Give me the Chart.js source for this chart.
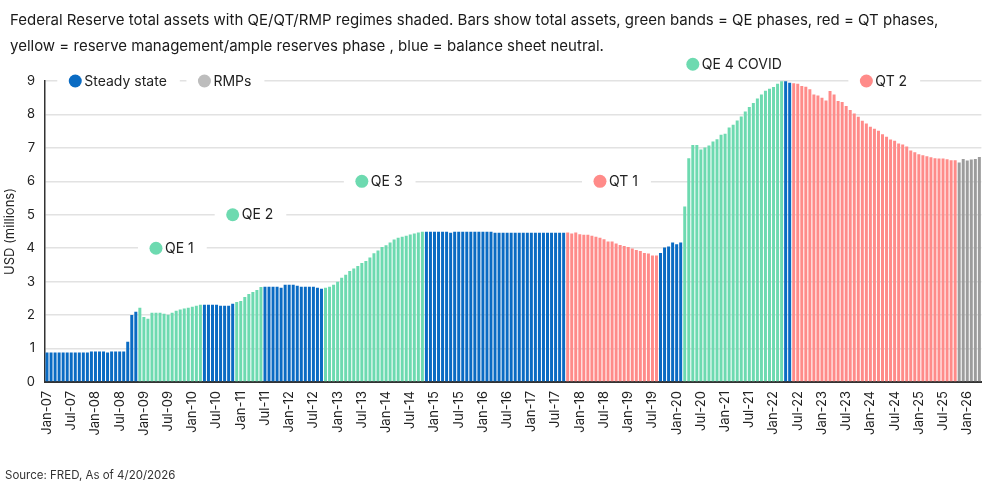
<!DOCTYPE html>
<html>
<head>
<meta charset="utf-8">
<script src="https://cdn.jsdelivr.net/npm/chart.js@4.4.1/dist/chart.umd.min.js"></script>
<style>
  html, body { margin: 0; padding: 0; background: #fff; }
  #wrap { width: 992px; height: 489px; position: relative; }
</style>
</head>
<body>
<div id="wrap"><canvas id="fedChart"></canvas></div>
<script>
// Fed total assets, month end, USD trillions (axis says millions, kept as in source)
// Jan-07 .. Apr-26, one row per year
const totalAssets = [
  0.88,0.88,0.88,0.88,0.88,0.88,0.88,0.88,0.88,0.88,0.88,0.91,
  0.91,0.91,0.91,0.88,0.91,0.91,0.91,0.91,1.20,2.00,2.10,2.22,
  1.94,1.89,2.07,2.07,2.07,2.04,2.01,2.07,2.13,2.17,2.20,2.22,
  2.25,2.28,2.31,2.31,2.31,2.31,2.31,2.28,2.28,2.28,2.34,2.39,
  2.42,2.54,2.63,2.69,2.75,2.84,2.85,2.85,2.85,2.85,2.82,2.91,
  2.91,2.91,2.88,2.85,2.85,2.85,2.85,2.82,2.79,2.82,2.85,2.91,
  3.00,3.12,3.21,3.32,3.39,3.47,3.56,3.62,3.72,3.85,3.93,4.04,
  4.09,4.17,4.26,4.31,4.34,4.37,4.41,4.44,4.47,4.49,4.49,4.49,
  4.49,4.49,4.49,4.49,4.46,4.49,4.49,4.49,4.49,4.49,4.49,4.49,
  4.49,4.49,4.49,4.46,4.46,4.46,4.46,4.46,4.46,4.46,4.46,4.46,
  4.46,4.46,4.46,4.46,4.46,4.46,4.46,4.46,4.46,4.47,4.44,4.47,
  4.42,4.40,4.40,4.37,4.34,4.31,4.27,4.20,4.20,4.14,4.10,4.07,
  4.04,3.99,3.95,3.92,3.86,3.84,3.78,3.78,3.86,4.02,4.05,4.17,
  4.12,4.17,5.25,6.69,7.09,7.09,6.95,7.01,7.07,7.19,7.26,7.39,
  7.42,7.61,7.69,7.82,7.94,8.09,8.22,8.34,8.48,8.60,8.71,8.77,
  8.82,8.92,8.99,8.99,8.95,8.93,8.92,8.85,8.83,8.75,8.60,8.57,
  8.50,8.42,8.70,8.60,8.40,8.37,8.25,8.13,8.03,7.93,7.81,7.73,
  7.63,7.57,7.51,7.41,7.33,7.25,7.21,7.13,7.10,7.04,6.92,6.87,
  6.81,6.78,6.75,6.72,6.69,6.68,6.68,6.66,6.63,6.63,6.56,6.67,
  6.62,6.65,6.67,6.73
];

// regimes in order, with how many months each lasts
const regimeKinds  = ['steady','qe','steady','qe','steady','qe','steady','qt','steady','qe','steady','qt','rmp'];
const regimeMonths = [23, 16, 8, 7, 15, 25, 35, 23, 6, 25, 2, 41, 6];

const kindColors = { steady: '#0a6bc3', qe: '#6ddab0', qt: '#ff8b89', rmp: '#9c9c9c' };

// text callouts on the plot: label, month, level on the y axis
const calloutText  = ['Steady state', 'RMPs', 'QE 1', 'QE 2', 'QE 3', 'QT 1', 'QE 4 COVID', 'QT 2'];
const calloutMonth = ['Aug-07', 'Apr-10', 'Apr-09', 'Nov-10', 'Jul-13', 'Jun-18', 'May-20', 'Dec-23'];
const calloutLevel = [9, 9, 4, 5, 6, 6, 9.5, 9];
const calloutDot   = ['#0a6bc3', '#bdbdbd', '#6ddab0', '#6ddab0', '#6ddab0', '#ff8b89', '#6ddab0', '#ff8b89'];

const yTicks = [0, 1, 2, 3, 4, 5, 6, 7, 8, 9];
const tickMonthNames = ['Jan', 'Jul'];

const titleLines = [
  'Federal Reserve total assets with QE/QT/RMP regimes shaded. Bars show total assets, green bands = QE phases, red = QT phases,',
  'yellow = reserve management/ample reserves phase , blue = balance sheet neutral.'
];
const sourceText = 'Source: FRED, As of 4/20/2026';

const monthNames = ['Jan','Feb','Mar','Apr','May','Jun','Jul','Aug','Sep','Oct','Nov','Dec'];
const months = [];
for (let yr = 2007; months.length < totalAssets.length; yr++) {
  for (let m = 0; m < 12 && months.length < totalAssets.length; m++) {
    months.push(monthNames[m] + '-' + String(yr).slice(2));
  }
}

const barColors = [];
regimeKinds.forEach((k, i) => {
  for (let n = 0; n < regimeMonths[i]; n++) barColors.push(kindColors[k]);
});

const FONT = 'Inter, "Liberation Sans", Arial, sans-serif';

const textPlugin = {
  id: 'textBits',
  afterDatasetsDraw(chart) {
    const { ctx, scales: { x, y } } = chart;
    ctx.save();
    ctx.font = '14px ' + FONT;
    ctx.textBaseline = 'middle';
    calloutText.forEach((t, i) => {
      const px = x.getPixelForValue(months.indexOf(calloutMonth[i]));
      const py = y.getPixelForValue(calloutLevel[i]);
      const w = ctx.measureText(t).width;
      ctx.fillStyle = '#fff';
      ctx.fillRect(px - 18, py - 10, w + 40, 20);
      ctx.fillStyle = calloutDot[i];
      ctx.beginPath();
      ctx.arc(px, py, 6.5, 0, Math.PI * 2);
      ctx.fill();
      ctx.fillStyle = '#222';
      ctx.textAlign = 'left';
      ctx.fillText(t, px + 9, py + 0.5);
    });
    ctx.restore();
  },
  afterDraw(chart) {
    const ctx = chart.ctx;
    ctx.save();
    ctx.fillStyle = '#1a1a1a';
    ctx.textBaseline = 'middle';
    ctx.textAlign = 'left';
    ctx.font = '15px ' + FONT;
    ctx.fillText(titleLines[0], 10, 20);
    ctx.fillText(titleLines[1], 10, 46);
    ctx.font = '11.5px ' + FONT;
    ctx.fillStyle = '#333';
    ctx.fillText(sourceText, 5, 476);
    ctx.restore();
  }
};

new Chart(document.getElementById('fedChart'), {
  type: 'bar',
  data: {
    labels: months,
    datasets: [{
      label: 'Total assets',
      data: totalAssets,
      backgroundColor: barColors,
      barPercentage: 0.74,
      categoryPercentage: 1.0
    }]
  },
  options: {
    responsive: true,
    maintainAspectRatio: false,
    animation: false,
    layout: { padding: { top: 81, right: 9, bottom: 0, left: 0 } },
    plugins: {
      legend: { display: false },
      tooltip: { enabled: false }
    },
    scales: {
      x: {
        afterFit: s => { s.height = 107; },
        grid: { display: false, drawTicks: false },
        border: { display: true, color: '#333', width: 2 },
        ticks: {
          autoSkip: false,
          minRotation: 90,
          maxRotation: 90,
          padding: 9,
          color: '#222',
          font: { family: FONT, size: 13 },
          callback: (v, i) => tickMonthNames.includes(months[i].slice(0, 3)) ? months[i] : null
        }
      },
      y: {
        min: 0,
        max: 9,
        afterFit: s => { s.width = 45; },
        afterBuildTicks: s => { s.ticks = yTicks.map(v => ({ value: v })); },
        grid: { color: '#e2e2e2', lineWidth: 1.5, drawTicks: false },
        border: { display: true, color: '#333', width: 1.5 },
        ticks: { padding: 10, color: '#222', font: { family: FONT, size: 13 } },
        title: {
          display: true,
          text: 'USD (millions)',
          color: '#222',
          font: { family: FONT, size: 13 },
          padding: { top: 2, bottom: 0 }
        }
      }
    }
  },
  plugins: [textPlugin]
});
</script>
</body>
</html>
